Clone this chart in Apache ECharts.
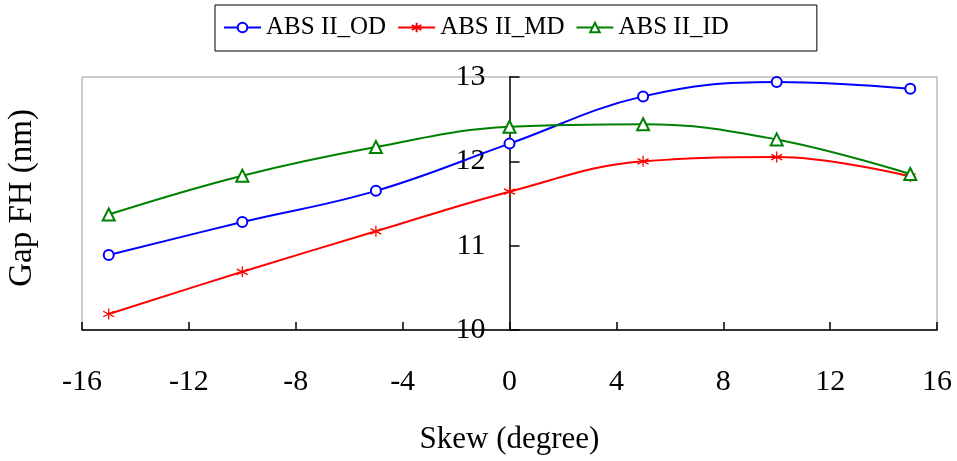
<!DOCTYPE html>
<html>
<head>
<meta charset="utf-8">
<script src="https://cdn.jsdelivr.net/npm/echarts@6/dist/echarts.min.js"></script>
<style>
  html, body { margin: 0; padding: 0; background: #fff; }
  #chart { width: 957px; height: 461px; }
</style>
</head>
<body>
<div id="chart"></div>
<script>
// Skew angles (degree) and gap flying height (nm) for each disk position
const skew = [-15, -10, -5, 0, 5, 10, 15];
const gapOD = [10.89, 11.28, 11.65, 12.21, 12.77, 12.94, 12.86];
const gapMD = [10.19, 10.69, 11.17, 11.64, 12.00, 12.05, 11.82];
const gapID = [11.37, 11.83, 12.17, 12.41, 12.44, 12.26, 11.85];
const seriesNames = ['ABS II_OD', 'ABS II_MD', 'ABS II_ID'];
const xTicks = { min: -16, max: 16, step: 4 };
const yTicks = { min: 10, max: 13, step: 1 };

const FONT = '"Liberation Serif", "Times New Roman", serif';
const asterisk = 'path://M5 0L5 10M0.7 2.5L9.3 7.5M0.7 7.5L9.3 2.5';
const GRID_LEFT = 82;

const pairs = vals => skew.map((x, i) => [x, vals[i]]);

const chart = echarts.init(document.getElementById('chart'), null, { renderer: 'canvas' });

const lineSeries = (name, vals, color, symbol, size) => ({
  name: name,
  type: 'line',
  data: pairs(vals),
  smooth: 0.4,
  symbol: symbol,
  symbolSize: size,
  showAllSymbol: true,
  lineStyle: { color: color, width: 2 },
  itemStyle: { color: color, borderColor: color, borderWidth: 1.3 },
  emphasis: { disabled: true },
  z: 3
});

chart.setOption({
  animation: false,
  backgroundColor: '#fff',
  textStyle: { fontFamily: FONT },
  legend: {
    top: 5,
    left: 215,
    padding: [10, 88, 11, 8],
    itemGap: 11,
    itemWidth: 37,
    itemHeight: 12,
    borderColor: '#000',
    borderWidth: 1,
    textStyle: { fontFamily: FONT, fontSize: 25, color: '#000' },
    data: seriesNames
  },
  grid: {
    left: GRID_LEFT,
    right: 20,
    top: 77,
    bottom: 131,
    show: true,
    borderColor: '#999',
    borderWidth: 1
  },
  xAxis: {
    type: 'value',
    min: xTicks.min,
    max: xTicks.max,
    interval: xTicks.step,
    name: 'Skew (degree)',
    nameLocation: 'middle',
    nameGap: 94,
    nameTextStyle: { fontFamily: FONT, fontSize: 31, color: '#000' },
    axisLine: { onZero: false, lineStyle: { color: '#000', width: 1.5 } },
    axisTick: { inside: true, length: 8, lineStyle: { color: '#000', width: 1.5 } },
    axisLabel: { margin: 37, fontFamily: FONT, fontSize: 30, color: '#000' },
    splitLine: { show: false }
  },
  yAxis: {
    type: 'value',
    min: yTicks.min,
    max: yTicks.max,
    interval: yTicks.step,
    axisLine: { onZero: true, lineStyle: { color: '#000', width: 1.5 } },
    axisTick: { inside: true, length: 10, lineStyle: { color: '#000', width: 1.5 } },
    axisLabel: { margin: 24, fontFamily: FONT, fontSize: 30, color: '#000' },
    splitLine: { show: false }
  },
  graphic: [{
    type: 'text',
    left: 6,
    top: 109,
    rotation: Math.PI / 2,
    style: { text: 'Gap FH (nm)', font: '33px ' + FONT, fill: '#000' }
  }],
  series: [
    lineSeries(seriesNames[0], gapOD, '#0000ff', 'emptyCircle', 10),
    lineSeries(seriesNames[1], gapMD, '#ff0000', asterisk, 11),
    lineSeries(seriesNames[2], gapID, '#008000', 'emptyTriangle', 12)
  ]
});

// The y axis sits at skew = 0; keep its tick labels just left of that line
const axisX = chart.convertToPixel({ gridIndex: 0 }, [0, yTicks.min])[0];
chart.setOption({ yAxis: { axisLabel: { margin: GRID_LEFT - (axisX - 24) } } });
</script>
</body>
</html>
